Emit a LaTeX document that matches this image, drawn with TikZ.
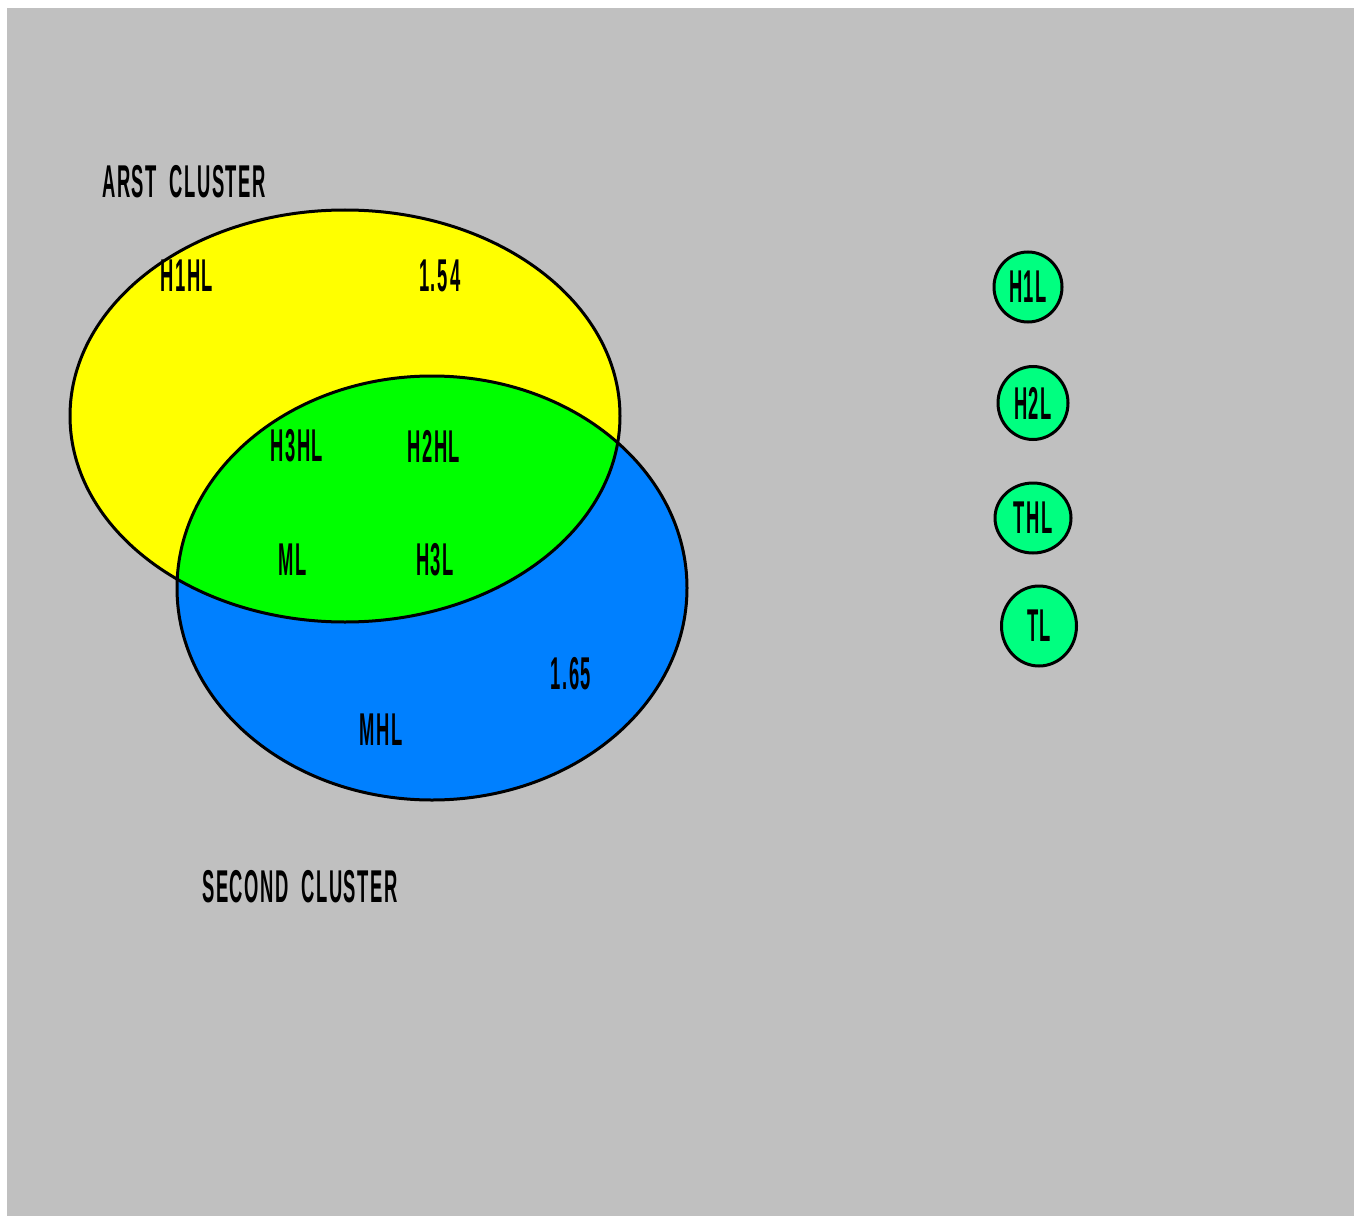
\documentclass[tikz,border=0pt]{standalone}
\usepackage{fontspec}
\setmainfont{Liberation Sans}
\newfontfamily\pxfont[LetterSpace=8]{Liberation Sans}
\usetikzlibrary{shapes.geometric}
\definecolor{bggray}{HTML}{C0C0C0}
\definecolor{vyellow}{HTML}{FFFF00}
\definecolor{vblue}{HTML}{0080FF}
\definecolor{vgreen}{HTML}{00FF00}
\definecolor{cgreen}{HTML}{00FF80}
\newcommand\pxtext[1]{\scalebox{0.40}[1]{\pxfont\bfseries #1}}
\tikzset{
  lbl/.style={font=\fontsize{46}{46}\selectfont, inner sep=0pt, text=black},
  bubble/.style={ellipse, draw=black, line width=3pt, fill=cgreen, inner sep=0pt, font=\fontsize{46}{46}\selectfont},
  outline/.style={draw=black, line width=3pt}
}
\begin{document}
\begin{tikzpicture}[x=1pt,y=-1pt]
\useasboundingbox (0,0) rectangle (1360,1217);
\fill[white] (0,0) rectangle (1360,1217);
\fill[bggray] (7,8) rectangle (1354,1216);
% Venn fills
\fill[vyellow] (345,416) ellipse [x radius=275pt, y radius=206pt];
\fill[vblue] (432,588) ellipse [x radius=255pt, y radius=212pt];
\begin{scope}
  \clip (345,416) ellipse [x radius=275pt, y radius=206pt];
  \fill[vgreen] (432,588) ellipse [x radius=255pt, y radius=212pt];
\end{scope}
\draw[outline] (345,416) ellipse [x radius=275pt, y radius=206pt];
\draw[outline] (432,588) ellipse [x radius=255pt, y radius=212pt];
% labels
\node[lbl] (first) at (184,182) {\pxtext{ARST\ \ CLUSTER}};
\node[lbl] (h1hl) at (187,276) {\pxtext{H1HL}};
\node[lbl] (v154) at (440,276) {\pxtext{1.5\,4}};
\node[lbl] (h3hl) at (297,446) {\pxtext{H3HL}};
\node[lbl] (h2hl) at (434,446) {\pxtext{H2HL}};
\node[lbl] (ml) at (293,560) {\pxtext{ML}};
\node[lbl] (h3l) at (435,560) {\pxtext{H3L}};
\node[lbl] (v165) at (571,674) {\pxtext{1.65}};
\node[lbl] (mhl) at (381,730) {\pxtext{MHL}};
\node[lbl] (second) at (300,887) {\pxtext{SECOND\ \ CLUSTER}};
% bubbles
\node[bubble, minimum width=68pt, minimum height=70pt] (h1l) at (1028,287) {\pxtext{H1L}};
\node[bubble, minimum width=70pt, minimum height=73pt] (h2l) at (1033,403) {\pxtext{H2L}};
\node[bubble, minimum width=76pt, minimum height=70pt] (thl) at (1033,518) {\pxtext{THL}};
\node[bubble, minimum width=75pt, minimum height=80pt] (tl) at (1039,626) {\pxtext{TL}};
\end{tikzpicture}
\end{document}
